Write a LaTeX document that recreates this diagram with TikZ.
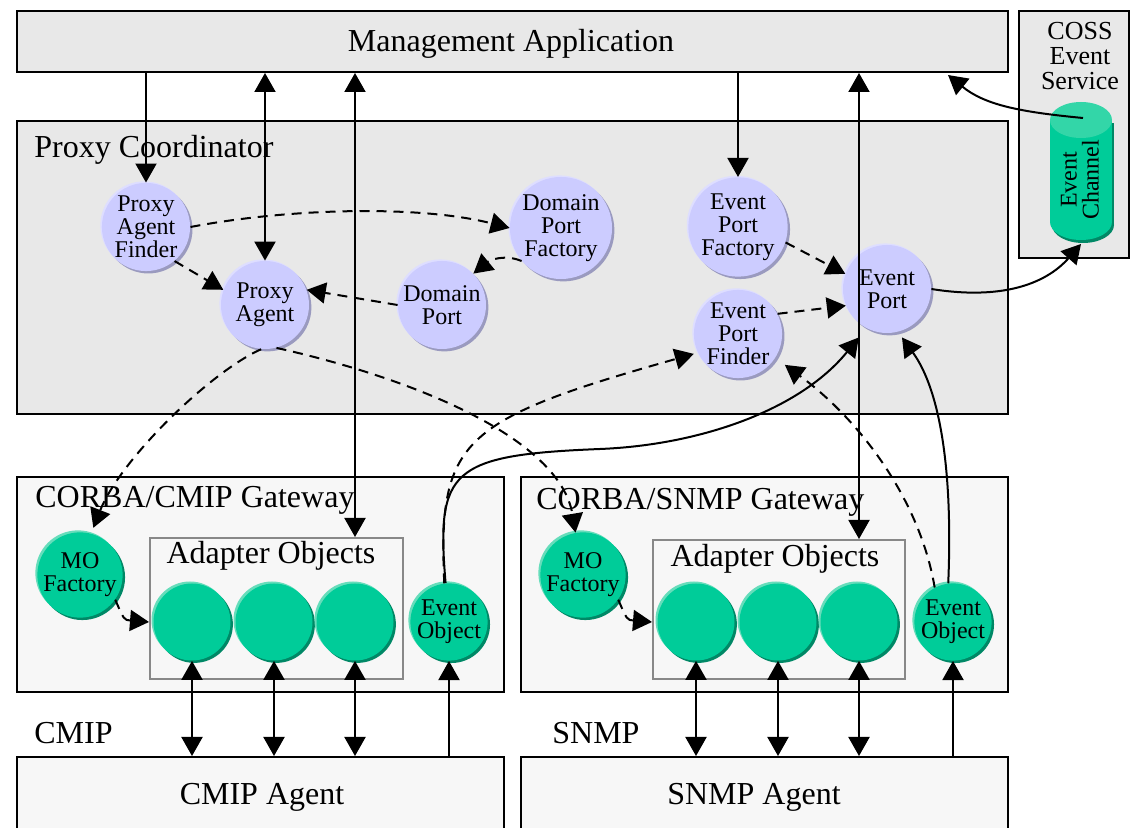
\documentclass[tikz,border=0pt]{standalone}
\usepackage{fontspec}
\setmainfont{Liberation Serif}
\usetikzlibrary{arrows.meta}
\definecolor{boxgray}{HTML}{E8E8E8}
\definecolor{boxlight}{HTML}{F7F7F7}
\definecolor{lavmain}{HTML}{CCCCFF}
\definecolor{lavdark}{HTML}{9A9ABF}
\definecolor{lavlight}{HTML}{DEDEFF}
\definecolor{grnmain}{HTML}{00CC99}
\definecolor{grndark}{HTML}{008866}
\definecolor{grnlight}{HTML}{66DDBB}
\definecolor{grncap}{HTML}{33D6A8}
\definecolor{adgray}{HTML}{888888}
\begin{document}
\begin{tikzpicture}[x=0.5pt,y=-0.5pt,
  >={Triangle[length=9.5pt,width=10.5pt]},
  box/.style={draw, line width=1pt, inner sep=0pt, anchor=north west},
  lbl/.style={inner sep=0pt, font=\fontsize{16}{19}\selectfont},
  objnode/.style={circle, inner sep=0pt, align=center, font=\fontsize{12}{11.5}\selectfont},
  lavnode/.style={objnode, minimum size=44pt, fill=lavmain,
    preaction={fill=lavdark, transform canvas={xshift=1.2pt,yshift=-1.2pt}},
    preaction={fill=lavlight, transform canvas={xshift=-0.8pt,yshift=0.8pt}}},
  grnnode/.style={objnode, minimum size=38.5pt, fill=grnmain,
    preaction={fill=grndark, transform canvas={xshift=1.2pt,yshift=-1.2pt}},
    preaction={fill=grnlight, transform canvas={xshift=-1pt,yshift=1pt}}},
  conn/.style={line width=1pt, ->},
  conn2/.style={line width=1pt, <->},
  dconn/.style={conn, dash pattern=on 5pt off 3.5pt}]
\useasboundingbox (0,0) rectangle (1131,828);
\fill[white] (0,0) rectangle (1131,828);

% boxes
\node[box, fill=boxgray, minimum width=495.5pt, minimum height=30.5pt] (ma) at (16,10) {};
\node[lbl, anchor=base] (mal) at (511,52) {Management Application};
\node[box, fill=boxgray, minimum width=55pt, minimum height=123.5pt] (coss) at (1018,10) {};
\node[align=center, inner sep=0pt, font=\fontsize{13}{12.5}\selectfont] (cossl) at (1080,56) {COSS\\Event\\Service};

\node[box, fill=boxgray, minimum width=495.5pt, minimum height=146.5pt] (pc) at (16,120) {};
\node[lbl, anchor=base west] (pcl) at (34,158) {Proxy Coordinator};

\node[box, fill=boxlight, minimum width=243.5pt, minimum height=107.5pt] (gwc) at (16,476) {};
\node[box, fill=boxlight, minimum width=243.5pt, minimum height=107.5pt] (gws) at (520,476) {};
\node[lbl, anchor=base west] (gwcl) at (35,508) {CORBA/CMIP Gateway};
\node[lbl, anchor=base west] (gwsl) at (536,510) {CORBA/SNMP Gateway};

\node[box, draw=adgray, fill=boxlight, minimum width=126.5pt, minimum height=70.5pt] (adc) at (149,537) {};
\node[box, draw=adgray, fill=boxlight, minimum width=126pt, minimum height=69.5pt] (ads) at (652,539) {};
\node[lbl, anchor=base] (adcl) at (271,564) {Adapter Objects};
\node[lbl, anchor=base] (adsl) at (775,567) {Adapter Objects};

\node[box, fill=boxlight, minimum width=243.5pt, minimum height=50pt] (cag) at (16,756) {};
\node[box, fill=boxlight, minimum width=243.5pt, minimum height=50pt] (sag) at (520,756) {};
\node[lbl, anchor=base] (cagl) at (262,805) {CMIP Agent};
\node[lbl, anchor=base] (sagl) at (754,805) {SNMP Agent};
\node[lbl, anchor=base west] (cmipl) at (34,743) {CMIP};
\node[lbl, anchor=base west] (snmpl) at (552,743) {SNMP};

% event channel cylinder
\fill[grndark] (1052,123) rectangle (1114,225);
\fill[grndark] (1083,225) ellipse [x radius=15.5pt, y radius=9pt];
\fill[grnmain] (1050,120) rectangle (1112,222);
\fill[grnmain] (1081,222) ellipse [x radius=15.5pt, y radius=9pt];
\fill[grncap] (1081,120) ellipse [x radius=15.5pt, y radius=9pt];
\node[rotate=90, align=center, inner sep=0pt, font=\fontsize{12}{11}\selectfont] (ec) at (1080,180) {Event\\Channel};
\coordinate (ectop) at (1083,118);
\coordinate (ecbot) at (1081,244);
\coordinate (maev) at (948,75);

% proxy coordinator objects
\node[lavnode] (paf) at (146,227) {Proxy\\Agent\\Finder};
\node[lavnode] (pa) at (265,305) {Proxy\\Agent};
\node[lavnode] (dpf) at (561,228) {Domain\\Port\\Factory};
\node[lavnode] (dp) at (442,305) {Domain\\Port};
\node[lavnode] (epf) at (738,227) {Event\\Port\\Factory};
\node[lavnode] (epfi) at (738,334) {Event\\Port\\Finder};
\node[lavnode] (ep) at (887,289) {Event\\Port};

% gateway objects
\node[grnnode] (mofc) at (80,575) {MO\\Factory};
\node[grnnode] (a1) at (192,622) {};
\node[grnnode] (a2) at (274,622) {};
\node[grnnode] (a3) at (355,622) {};
\node[grnnode] (eoc) at (449,622) {Event\\Object};
\node[grnnode] (mofs) at (583,575) {MO\\Factory};
\node[grnnode] (b1) at (696,622) {};
\node[grnnode] (b2) at (778,622) {};
\node[grnnode] (b3) at (859,622) {};
\node[grnnode] (eos) at (953,622) {Event\\Object};

% vertical connectors from management application
\draw[conn] (ma.south -| paf.north) -- (paf.north);
\draw[conn2] (ma.south -| pa.north) -- (pa.north);
\draw[conn2] (ma.south -| a3) -- (adc.north -| a3);
\draw[conn] (ma.south -| epf.north) -- (epf.north);
\draw[conn2] (ma.south -| b3) -- (ads.north -| b3);

% event channel
\draw[conn] (ectop) .. controls (1020,112) and (985,105) .. (maev);
\draw[conn] (ep.east) .. controls (1000,300) and (1045,285) .. (ecbot);

% proxy coordinator dashed
\draw[dconn] (paf.east) .. controls (290,208) and (420,205) .. (dpf.west);
\draw[dconn] (paf.-50) -- (pa.160);
\draw[dconn] (dpf.-140) .. controls (505,254) and (490,260) .. (dp.45);
\draw[dconn] (dp.west) -- (pa.20);
\draw[dconn] (epf.-18) -- (ep.160);
\draw[dconn] (epfi.27) -- (ep.-158);

% proxy agent to MO factories
\draw[dconn, shorten >=3pt] (pa.-95) .. controls (210,372) and (120,460) .. (mofc.75);
\draw[dconn] (pa.-75) .. controls (420,380) and (560,440) .. (mofs.100);
\draw[dconn] (mofc.-35) .. controls (124,620) .. (adc.west |- a1);
\draw[dconn] (mofs.-35) .. controls (627,620) .. (ads.west |- b1);

% event objects
\draw[dconn, shorten >=2pt] (eoc.97) .. controls (438,440) and (460,420) .. (epfi.205);
\draw[conn] (eoc.95) .. controls (436,470) and (450,455) .. (600,449)
  .. controls (700,445) and (800,410) .. ([shift={(-6,10)}]ep.240);
\draw[dconn] (eos.118) .. controls (920,500) and (860,420) .. ([shift={(10,6)}]epfi.-34);
\draw[conn] (eos.97) .. controls (953,470) and (940,390) .. ([shift={(2,6)}]ep.-73);

% bottom connectors
\draw[conn2] (a1.south) -- (cag.north -| a1);
\draw[conn2] (a2.south) -- (cag.north -| a2);
\draw[conn2] (a3.south) -- (cag.north -| a3);
\draw[conn] (cag.north -| eoc) -- (eoc.south);
\draw[conn2] (b1.south) -- (sag.north -| b1);
\draw[conn2] (b2.south) -- (sag.north -| b2);
\draw[conn2] (b3.south) -- (sag.north -| b3);
\draw[conn] (sag.north -| eos) -- (eos.south);
\end{tikzpicture}
\end{document}
